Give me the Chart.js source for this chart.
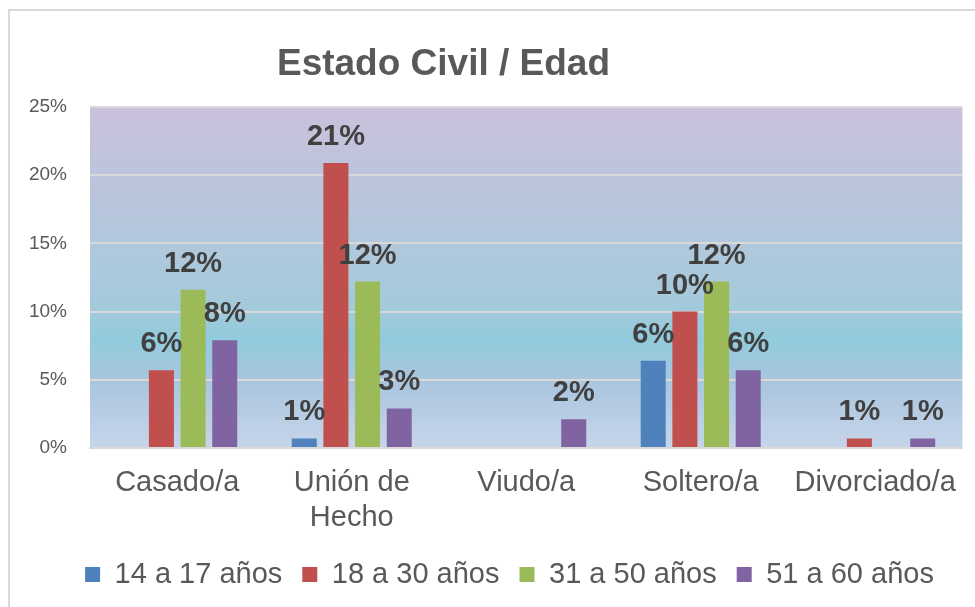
<!DOCTYPE html>
<html><head><meta charset="utf-8">
<script src="https://cdn.jsdelivr.net/npm/chart.js@4"></script>
<style>html,body{margin:0;padding:0;background:#fff;overflow:hidden;} #wrap{position:relative;width:975px;height:607px;}</style>
</head><body><div id="wrap"><canvas id="c" width="975" height="607"></canvas></div>
<script>
const titleText = "Estado Civil / Edad";
const categories = ["Casado/a", ["Unión de", "Hecho"], "Viudo/a", "Soltero/a", "Divorciado/a"];
const seriesNames = ["14 a 17 años", "18 a 30 años", "31 a 50 años", "51 a 60 años"];
const age14to17 = [0, 0.7, 0, 6.4, 0];
const age18to30 = [5.7, 20.9, 0, 10.0, 0.7];
const age31to50 = [11.6, 12.2, 0, 12.2, 0];
const age51to60 = [7.9, 2.9, 2.1, 5.7, 0.7];
const yTickValues = [0, 5, 10, 15, 20, 25];
const seriesColors = ["#4f81bd", "#c0504d", "#9bbb59", "#8064a2"];

Chart.defaults.font.family = '"Liberation Sans", Arial, sans-serif';

const decor = {
  id: 'decor',
  afterLayout(chart) {
    const lg = chart.legend;
    if (lg) { lg.left += 28; lg.right += 28; }
  },
  beforeDraw(chart) {
    const {ctx, chartArea: a} = chart;
    ctx.save();
    ctx.strokeStyle = '#d9d9d9';
    ctx.lineWidth = 2;
    ctx.strokeRect(9, 10, 1000, 700);
    const g = ctx.createLinearGradient(0, a.top, 0, a.bottom);
    g.addColorStop(0, '#cbc1dc');
    g.addColorStop(0.2, '#bcc4dc');
    g.addColorStop(0.4, '#b2c8dc');
    g.addColorStop(0.6, '#a2cadb');
    g.addColorStop(0.68, '#91cbdc');
    g.addColorStop(0.8, '#a9c5de');
    g.addColorStop(1, '#c6d5ea');
    ctx.fillStyle = g;
    ctx.fillRect(a.left, a.top, a.right - a.left, a.bottom - a.top);
    ctx.restore();
  },
  afterDatasetsDraw(chart) {
    const ctx = chart.ctx;
    ctx.save();
    ctx.fillStyle = '#404040';
    ctx.font = 'bold 29px "Liberation Sans", Arial, sans-serif';
    ctx.textAlign = 'center';
    ctx.textBaseline = 'alphabetic';
    chart.data.datasets.forEach((ds, i) => {
      const meta = chart.getDatasetMeta(i);
      meta.data.forEach((el, j) => {
        const v = ds.data[j];
        if (!v) return;
        ctx.fillText(Math.round(v) + '%', el.x, el.y - 18);
      });
    });
    ctx.restore();
  },
  afterDraw(chart) {
    const ctx = chart.ctx;
    ctx.save();
    ctx.fillStyle = '#595959';
    ctx.font = 'bold 37px "Liberation Sans", Arial, sans-serif';
    ctx.textAlign = 'center';
    ctx.textBaseline = 'alphabetic';
    ctx.fillText(titleText, 443.5, 75);
    ctx.restore();
  }
};

const seriesData = [age14to17, age18to30, age31to50, age51to60];

new Chart(document.getElementById('c'), {
  type: 'bar',
  data: {
    labels: categories,
    datasets: seriesNames.map((n, i) => ({
      label: n,
      data: seriesData[i],
      backgroundColor: seriesColors[i],
      borderWidth: 0,
      categoryPercentage: 0.726,
      barPercentage: 0.79
    }))
  },
  options: {
    responsive: false,
    animation: false,
    devicePixelRatio: 1,
    layout: { padding: { left: 0, right: 12, top: 107, bottom: 8 } },
    plugins: {
      title: { display: false },
      tooltip: { enabled: false },
      legend: {
        position: 'bottom',
        align: 'center',
        labels: {
          boxWidth: 15, boxHeight: 15,
          color: '#595959',
          font: { size: 29 },
          padding: 20
        }
      }
    },
    scales: {
      x: {
        grid: { display: false, drawTicks: false },
        border: { display: true, color: '#d9d9d9', width: 2 },
        ticks: { color: '#595959', font: { size: 29, lineHeight: 1.2 }, padding: 18, maxRotation: 0, autoSkip: false },
        afterFit(s) { s.height = 92; }
      },
      y: {
        min: 0, max: 25,
        afterBuildTicks(s) { s.ticks = yTickValues.map(v => ({ value: v })); },
        ticks: { callback: v => v + '%', color: '#595959', font: { size: 19 }, padding: 23 },
        grid: { color: '#d9d9d9', lineWidth: 2, drawTicks: false },
        border: { display: false },
        afterFit(s) { s.width = 90; }
      }
    }
  },
  plugins: [decor]
});
</script>
</body></html>
